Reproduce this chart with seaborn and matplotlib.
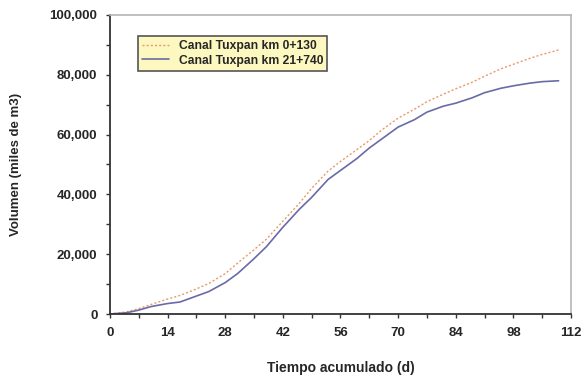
import numpy as np
import pandas as pd
import matplotlib
matplotlib.use("Agg")
import matplotlib.pyplot as plt
import seaborn as sns
from matplotlib.ticker import MultipleLocator, FuncFormatter

# Volumen acumulado en dos puntos del Canal Tuxpan
dias = [0, 4, 7, 10, 14, 17, 20, 24, 28, 31, 35, 38, 42, 46, 49, 53, 56,
        60, 63, 66, 70, 74, 77, 81, 84, 88, 91, 95, 98, 102, 105, 109]
km_0130 = [0, 700, 1800, 3200, 5000, 6200, 7800, 10200, 13500, 17000, 21500,
           25000, 31000, 37000, 42000, 47800, 51000, 55000, 58000, 61500,
           65500, 68500, 71000, 73500, 75300, 77500, 79500, 82000, 83500,
           85500, 86800, 88300]
km_21740 = [0, 400, 1300, 2500, 3500, 4000, 5500, 7500, 10500, 13500, 18500,
            22500, 29000, 35000, 39000, 45000, 48000, 52000, 55500, 58500,
            62500, 65000, 67500, 69500, 70500, 72300, 74000, 75500, 76300,
            77200, 77700, 78000]
series = ["Canal Tuxpan km 0+130", "Canal Tuxpan km 21+740"]

df = pd.DataFrame({"dias": dias * 2,
                   "volumen": km_0130 + km_21740,
                   "serie": [series[0]] * len(dias) + [series[1]] * len(dias)})

sns.set_style("ticks")
plt.rcParams["font.family"] = ["Liberation Sans", "DejaVu Sans"]

fig = plt.figure(figsize=(5.88, 3.79), dpi=100)
ax = fig.add_axes([0.187, 0.1715, 0.784, 0.789])

sns.lineplot(data=df[df.serie == series[0]], x="dias", y="volumen", ax=ax,
             color="#e89a6a", linestyle=(0, (1.5, 1.5)), linewidth=1.0,
             label=series[0])
sns.lineplot(data=df[df.serie == series[1]], x="dias", y="volumen", ax=ax,
             color="#6a6aa6", linewidth=1.2, label=series[1])

ax.set_xlim(0, 112)
ax.set_ylim(0, 100000)
ax.xaxis.set_major_locator(MultipleLocator(14))
ax.xaxis.set_minor_locator(MultipleLocator(7))
ax.yaxis.set_major_locator(MultipleLocator(20000))
ax.yaxis.set_minor_locator(MultipleLocator(10000))
ax.yaxis.set_major_formatter(FuncFormatter(lambda v, p: f"{int(v):,}"))
ax.tick_params(which="both", direction="out", length=3, width=1, color="#333333")
ax.tick_params(labelsize=9.5, pad=6)
for lab in ax.get_xticklabels() + ax.get_yticklabels():
    lab.set_fontweight("bold")

for s in ["left", "bottom"]:
    ax.spines[s].set_color("#333333")
    ax.spines[s].set_linewidth(1.3)
for s in ["top", "right"]:
    ax.spines[s].set_visible(True)
    ax.spines[s].set_color("#b5b5b5")
    ax.spines[s].set_linewidth(1.2)

ax.set_xlabel("Tiempo acumulado (d)", fontsize=10, fontweight="bold", labelpad=16)
ax.set_ylabel("Volumen (miles de m3)", fontsize=9.5, fontweight="bold", labelpad=20)

leg = ax.legend(loc="upper left", bbox_to_anchor=(0.048, 0.95), fontsize=8.7,
                frameon=True, fancybox=False, handlelength=2.2,
                borderpad=0.35, labelspacing=0.2)
leg.get_frame().set_facecolor("#fdf8c0")
leg.get_frame().set_edgecolor("#555555")
leg.get_frame().set_linewidth(1.2)
leg.get_frame().set_alpha(1)
for t in leg.get_texts():
    t.set_fontweight("bold")

fig.savefig("out.png", dpi=100)
